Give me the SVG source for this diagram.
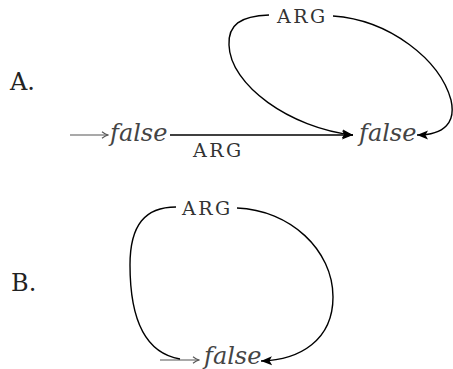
<svg xmlns="http://www.w3.org/2000/svg" width="453" height="369" viewBox="0 0 453 369">
<style>
text{font-family:'DejaVu Serif',serif}
.lbl{fill:#222;font-size:24px}
.arg{font-size:19px;letter-spacing:2.5px;fill:#333}
.st{font-style:italic;font-size:24px;fill:#444}
.edge{fill:none;stroke:#000;stroke-width:1.4}
.init{fill:none;stroke:#555;stroke-width:1.2}
</style>
<defs>
<marker id="ah" markerUnits="userSpaceOnUse" markerWidth="12" markerHeight="10" refX="11" refY="5" orient="auto">
<path d="M0,0.5 L11,5 L0,9.5 L2.5,5 Z" fill="#000"/>
</marker>
<marker id="open" markerUnits="userSpaceOnUse" markerWidth="8" markerHeight="8" refX="7" refY="4" orient="auto">
<path d="M1,0.8 Q4,3.2 7,4 Q4,4.8 1,7.2" fill="none" stroke="#555" stroke-width="1.1"/>
</marker>
</defs>
<text class="lbl" x="10" y="90">A.</text>
<text class="lbl" x="11" y="291">B.</text>
<g id="connectors">
<path class="init" d="M70,135 L108,135" marker-end="url(#open)"/>
<path class="edge" stroke-width="2" d="M170,135 L353,135" marker-end="url(#ah)"/>
<path class="edge" d="M269,15 C240,16 228,25 229,45 C230,85 290,128 353,135" marker-end="url(#ah)"/>
<path class="edge" d="M333,16 C390,20 440,60 451,100 C456,122 445,135 417,135" marker-end="url(#ah)"/>
<path class="init" d="M160,360 L199,360" marker-end="url(#open)"/>
<path class="edge" d="M176,207 C145,207 130,225 130,265 C130,320 145,353 180,359"/>
<path class="edge" d="M237,208 C290,210 333,250 333,297 C333,340 300,360 261,361" marker-end="url(#ah)"/>
</g>
<g id="nodeA1"><text class="st" x="110" y="141">false</text></g>
<g id="nodeA2"><text class="st" x="359" y="141">false</text></g>
<g id="nodeB1"><text class="st" x="204" y="364">false</text></g>
<g id="labels">
<text class="arg" x="277" y="23">ARG</text>
<text class="arg" x="193" y="157">ARG</text>
<text class="arg" x="182" y="215">ARG</text>
</g>
</svg>
